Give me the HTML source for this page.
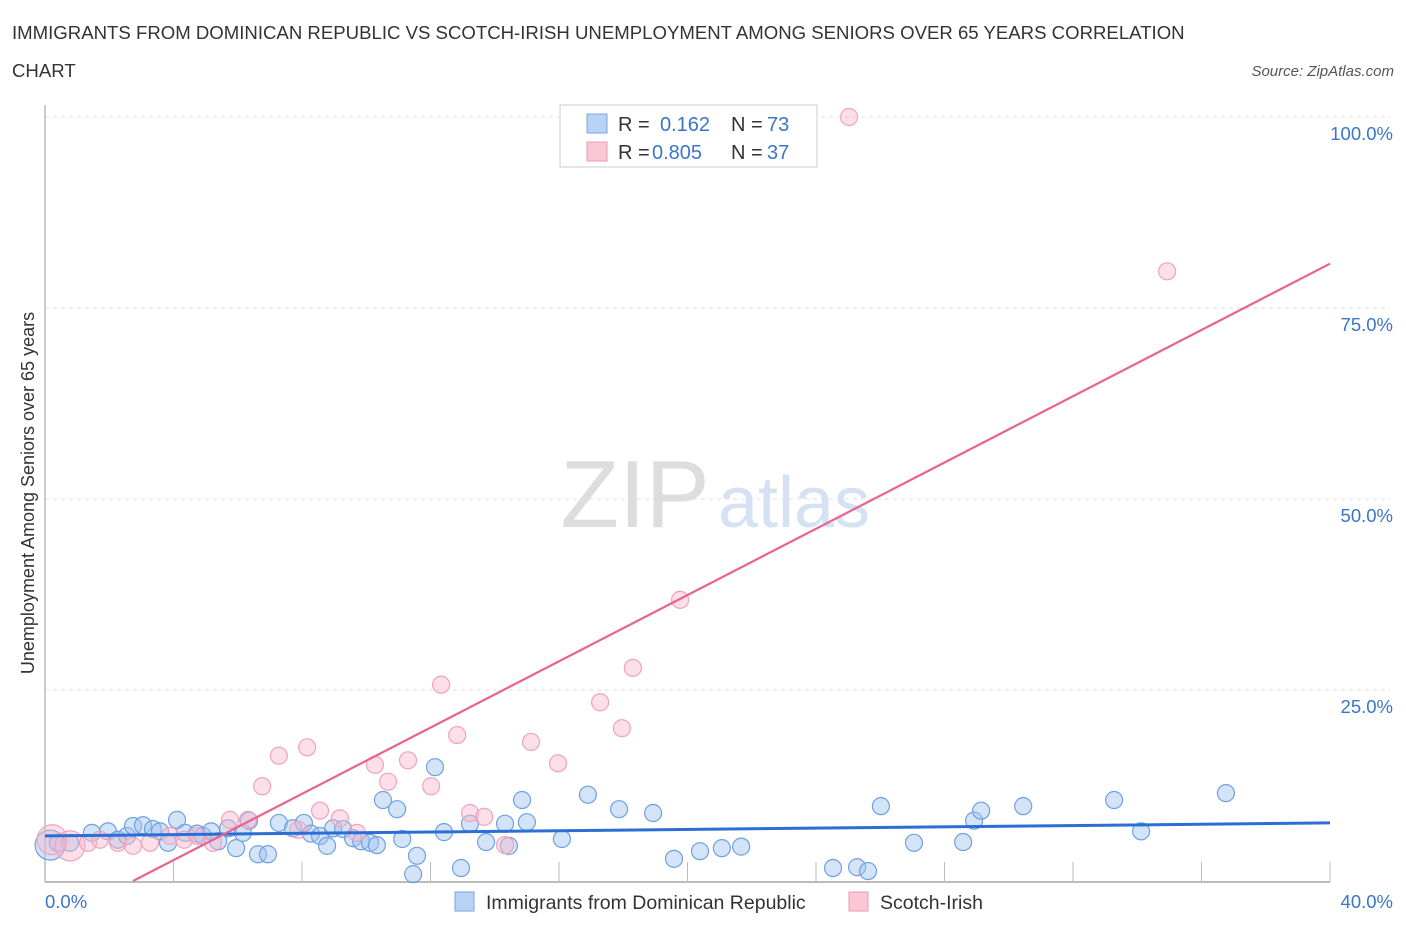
<!DOCTYPE html>
<html><head><meta charset="utf-8"><style>
body{margin:0;background:#fff;font-family:"Liberation Sans",sans-serif;}
svg text{font-family:"Liberation Sans",sans-serif;}
</style></head><body>
<svg id="chart" width="1406" height="930" xmlns="http://www.w3.org/2000/svg">
<text x="12" y="39" font-size="18.6" fill="#333">IMMIGRANTS FROM DOMINICAN REPUBLIC VS SCOTCH-IRISH UNEMPLOYMENT AMONG SENIORS OVER 65 YEARS CORRELATION</text>
<text x="12" y="77" font-size="18.6" fill="#333">CHART</text>
<text x="1394" y="76" font-size="15" fill="#555" text-anchor="end" font-style="italic">Source: ZipAtlas.com</text>
<text transform="translate(34,493) rotate(-90)" font-size="18" fill="#333" text-anchor="middle">Unemployment Among Seniors over 65 years</text>
<text x="635" y="527" font-size="96" fill="#ddd" font-family="Liberation Serif" text-anchor="middle">ZIP</text>
<text x="718" y="527" font-size="72" fill="#d4e2f4">atlas</text>
<g id="grid"></g><g id="axes"></g><g id="marks"></g><g id="lines"></g>
<g>
<rect x="560" y="105" width="257" height="62" fill="#fff" stroke="#ccc"/>
<rect x="587" y="114" width="20" height="19" fill="#b8d3f5" stroke="#7aa7e0"/>
<rect x="587" y="142" width="20" height="19" fill="#f9c7d6" stroke="#ee9ab3"/>
<text x="618" y="131" font-size="20" fill="#333">R = </text><text x="660" y="131" font-size="20" fill="#3a75c9">0.162</text>
<text x="731" y="131" font-size="20" fill="#333">N = </text><text x="767" y="131" font-size="20" fill="#3a75c9">73</text>
<text x="618" y="159" font-size="20" fill="#333">R = </text><text x="652" y="159" font-size="20" fill="#3a75c9">0.805</text>
<text x="731" y="159" font-size="20" fill="#333">N = </text><text x="767" y="159" font-size="20" fill="#3a75c9">37</text>
</g>
<g>
<rect x="455" y="892" width="19" height="19" fill="#b8d3f5" stroke="#7aa7e0"/>
<text x="486" y="909" font-size="19.5" fill="#333">Immigrants from Dominican Republic</text>
<rect x="849" y="892" width="19" height="19" fill="#f9c7d6" stroke="#ee9ab3"/>
<text x="880" y="909" font-size="19.5" fill="#333">Scotch-Irish</text>
</g>
</svg>
<script>
const blueX=[0.16,0.40,0.78,1.46,1.96,2.27,2.55,2.74,3.05,3.36,3.58,3.83,4.11,4.36,4.73,4.92,5.17,5.39,5.70,5.95,6.16,6.35,6.63,6.94,7.28,7.72,8.06,8.28,8.56,8.78,8.97,9.28,9.59,9.84,10.12,10.33,10.52,10.96,11.12,11.46,11.58,12.14,12.42,12.95,13.23,13.73,14.32,14.44,14.85,15.00,16.09,16.90,17.87,18.93,19.58,20.39,21.07,21.67,24.53,25.28,25.62,26.02,27.05,28.58,28.92,29.14,30.45,33.28,34.12,36.76];
const blueY=[4.7,5.0,5.0,6.3,6.5,5.4,5.9,7.2,7.3,6.8,6.5,5.0,8.0,6.3,6.2,5.9,6.5,5.2,6.9,4.3,6.3,7.9,3.5,3.5,7.6,6.9,7.6,6.2,5.9,4.6,6.9,6.8,5.6,5.2,5.0,4.7,10.6,9.4,5.5,0.9,3.3,14.9,6.4,1.7,7.5,5.1,7.5,4.6,10.6,7.7,5.5,11.3,9.4,8.9,2.9,3.9,4.3,4.5,1.7,1.8,1.3,9.8,5.0,5.1,7.9,9.2,9.8,10.6,6.5,11.5];
const pinkX=[0.22,0.78,1.34,1.71,2.27,2.74,3.27,3.89,4.33,4.73,5.23,5.76,6.32,6.76,7.28,7.88,8.16,8.56,9.18,9.71,10.27,10.68,11.30,12.02,12.33,12.83,13.23,13.67,14.32,15.13,15.97,17.28,17.96,18.30,19.77,25.03,34.93];
const pinkY=[5.4,4.6,5.0,5.4,5.0,4.6,5.0,5.9,5.4,5.9,5.0,8.0,8.0,12.4,16.4,6.7,17.5,9.2,8.2,6.3,15.2,13.0,15.8,12.4,25.7,19.1,8.9,8.4,4.7,18.2,15.4,23.4,20.0,27.9,36.8,100.0,79.8];
const blueTrend=[5.9,7.6];
const pinkTrend=[-5.94,80.8];
const yTicks=[25,50,75,100];
const yTickLabels=["25.0%","50.0%","75.0%","100.0%"];
const xTicks=[0,4,8,12,16,20,24,28,32,36,40];

const NS="http://www.w3.org/2000/svg";
const sx=v=>45+v/40*1285;
const sy=v=>881-v/100*764;
function mk(parent,tag,attrs){const e=document.createElementNS(NS,tag);for(const k in attrs)e.setAttribute(k,attrs[k]);document.getElementById(parent).appendChild(e);return e;}
yTicks.forEach((t,i)=>{
 const g=mk('grid','line',{x1:45,x2:1390,y1:sy(t),y2:sy(t),stroke:'#ddd','stroke-dasharray':'4,4'});
 
 
 const l=mk('axes','text',{x:1393,y:sy(t)+23,'font-size':18.5,fill:'#3a75c9','text-anchor':'end'});
 l.textContent=yTickLabels[i];
 
 
});
const ax=mk('axes','line',{x1:45,x2:1330,y1:882,y2:882,stroke:'#bbb','stroke-width':2});


const ay=mk('axes','line',{x1:45,x2:45,y1:105,y2:882,stroke:'#bbb','stroke-width':1.5});


xTicks.forEach(t=>{const k=mk('axes','line',{x1:sx(t),x2:sx(t),y1:862,y2:882,stroke:'#bbb'});
 
 });
const x0=mk('axes','text',{x:45,y:908,'font-size':18.5,fill:'#3a75c9'});x0.textContent='0.0%';


const x1=mk('axes','text',{x:1393,y:908,'font-size':18.5,fill:'#3a75c9','text-anchor':'end'});x1.textContent='40.0%';


blueX.forEach((x,i)=>{const c=mk('marks','circle',{cx:sx(x),cy:sy(blueY[i]),r:i==0?15:8.5,fill:'rgba(160,196,240,0.45)',stroke:'#6fa0e0','stroke-width':1.2});
 
 });
pinkX.forEach((x,i)=>{const c=mk('marks','circle',{cx:sx(x),cy:sy(pinkY[i]),r:i<2?15:8.5,fill:'rgba(248,184,204,0.45)',stroke:'#f0a3bb','stroke-width':1.2});
 
 });
const bl=mk('lines','line',{x1:sx(0),y1:sy(blueTrend[0]),x2:sx(40),y2:sy(blueTrend[1]),stroke:'#2a6fd4','stroke-width':3});


const px0=-pinkTrend[0]/((pinkTrend[1]-pinkTrend[0])/40);
const pl=mk('lines','line',{x1:sx(px0),y1:sy(0),x2:sx(40),y2:sy(pinkTrend[1]),stroke:'#e8648f','stroke-width':2.2});


</script>
</body></html>
